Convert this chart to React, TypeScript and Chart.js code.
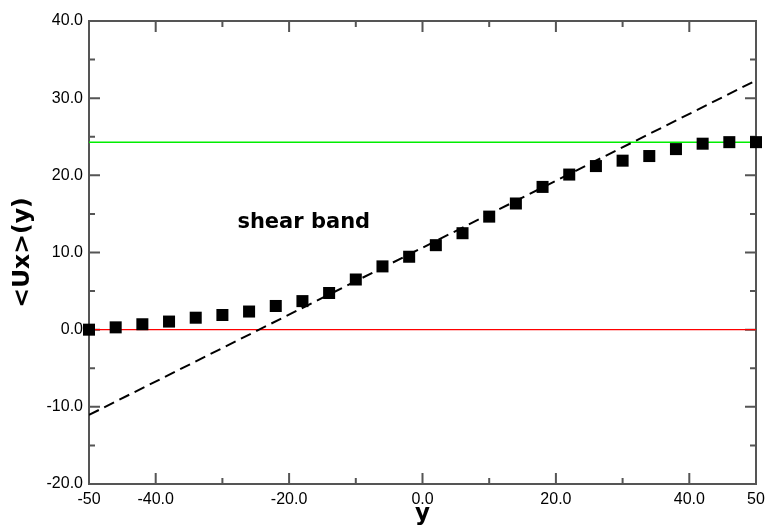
import React, { useEffect, useRef } from "react";
import { Chart, registerables } from "chart.js";

Chart.register(...registerables);

// ---- data ----
const positions = [-50, -46, -42, -38, -34, -30, -26, -22, -18, -14, -10, -6, -2, 2, 6, 10, 14, 18, 22, 26, 30, 34, 38, 42, 46, 50];
const uxValues = [0.0, 0.3, 0.7, 1.05, 1.55, 1.9, 2.35, 3.07, 3.7, 4.75, 6.5, 8.2, 9.45, 10.95, 12.5, 14.65, 16.35, 18.5, 20.1, 21.2, 21.9, 22.5, 23.4, 24.1, 24.3, 24.3];
const fitX = [-50, 50];
const fitY = [-11.05, 32.3];
const upperLevel = 24.3;
const lowerLevel = 0.0;
const xRange = [-50, 50];
const yRange = [-20, 40];
const annotationText = "shear band";
const annotationAt = [-17.8, 14.1];

const FRAME = "#555555";

const framePlugin = {
  id: "frameTicks",
  beforeDatasetsDraw(chart: any) {
    const { ctx, chartArea: a, scales } = chart;
    const xs = scales.x;
    const ys = scales.y;
    ctx.save();
    ctx.strokeStyle = FRAME;
    ctx.lineWidth = 2;
    ctx.strokeRect(a.left, a.top, a.right - a.left, a.bottom - a.top);
    ctx.beginPath();
    for (let v = -50; v <= 50; v += 10) {
      const px = xs.getPixelForValue(v);
      const major = v % 20 === 0 || Math.abs(v) === 50;
      const len = major ? 11 : 6;
      ctx.moveTo(px, a.bottom);
      ctx.lineTo(px, a.bottom - len);
      ctx.moveTo(px, a.top);
      ctx.lineTo(px, a.top + len);
    }
    for (let v = -20; v <= 40; v += 5) {
      const py = ys.getPixelForValue(v);
      const major = v % 10 === 0;
      const len = major ? 11 : 6;
      ctx.moveTo(a.left, py);
      ctx.lineTo(a.left + len, py);
      ctx.moveTo(a.right, py);
      ctx.lineTo(a.right - len, py);
    }
    ctx.stroke();
    ctx.restore();
  },
  afterDraw(chart: any) {
    const { ctx, scales } = chart;
    ctx.save();
    ctx.fillStyle = "#000";
    ctx.font = "bold 21px 'DejaVu Sans'";
    ctx.textAlign = "center";
    ctx.textBaseline = "alphabetic";
    ctx.fillText(
      annotationText,
      scales.x.getPixelForValue(annotationAt[0]),
      scales.y.getPixelForValue(annotationAt[1]) + 7
    );
    ctx.restore();
  },
};

export default function App() {
  const ref = useRef<HTMLCanvasElement | null>(null);
  useEffect(() => {
    if (!ref.current) return;
    const pts = positions.map((x, i) => ({ x, y: uxValues[i] }));
    const chart = new Chart(ref.current, {
      type: "scatter",
      data: {
        datasets: [
          {
            label: "<Ux>(y)",
            data: pts,
            pointStyle: "rect",
            pointRadius: 8.5,
            pointHoverRadius: 8.5,
            pointBorderWidth: 0,
            backgroundColor: "#000",
            borderColor: "#000",
            showLine: false,
            clip: false,
            order: 0,
          },
          {
            label: "fit",
            data: fitX.map((x, i) => ({ x, y: fitY[i] })),
            showLine: true,
            pointRadius: 0,
            borderColor: "#000",
            borderWidth: 2,
            borderDash: [11, 6],
            order: 1,
          },
          {
            label: "upper",
            data: xRange.map((x) => ({ x, y: upperLevel })),
            showLine: true,
            pointRadius: 0,
            borderColor: "#00ee00",
            borderWidth: 1.5,
            order: 2,
          },
          {
            label: "lower",
            data: xRange.map((x) => ({ x, y: lowerLevel })),
            showLine: true,
            pointRadius: 0,
            borderColor: "#ff0000",
            borderWidth: 1.4,
            order: 3,
          },
        ],
      },
      options: {
        animation: false,
        responsive: false,
        events: [],
        layout: { padding: { top: 21, right: 9, bottom: 0, left: 0 } },
        plugins: { legend: { display: false }, tooltip: { enabled: false } },
        scales: {
          x: {
            type: "linear",
            min: xRange[0],
            max: xRange[1],
            border: { display: false },
            grid: { display: false, drawTicks: false },
            afterFit(scale: any) {
              scale.height = 44;
              scale.paddingLeft = 0;
              scale.paddingRight = 0;
            },
            ticks: {
              stepSize: 10,
              autoSkip: false,
              maxRotation: 0,
              padding: 6,
              color: "#000",
              font: { family: "'Liberation Sans', Arial", size: 16 },
              callback: (v: any) => {
                const n = Math.round(Number(v));
                if (Math.abs(n) === 50) return String(n);
                return n % 20 === 0 ? n.toFixed(1) : "";
              },
            },
            title: {
              display: true,
              text: "y",
              color: "#000",
              font: { family: "'DejaVu Sans'", size: 23, weight: "bold" },
              padding: { top: 0, bottom: 0 },
            },
          },
          y: {
            type: "linear",
            min: yRange[0],
            max: yRange[1],
            border: { display: false },
            grid: { display: false, drawTicks: false },
            afterFit(scale: any) {
              scale.width = 89;
              scale.paddingTop = 0;
              scale.paddingBottom = 0;
            },
            ticks: {
              stepSize: 5,
              autoSkip: false,
              padding: 6,
              color: "#000",
              font: { family: "'Liberation Sans', Arial", size: 16 },
              callback: (v: any) => {
                const n = Math.round(Number(v));
                return n % 10 === 0 ? n.toFixed(1) : "";
              },
            },
            title: {
              display: true,
              text: "<Ux>(y)",
              color: "#000",
              font: { family: "'DejaVu Sans'", size: 23.5, weight: "bold" },
              padding: { top: 9, bottom: 0 },
            },
          },
        },
      },
      plugins: [framePlugin],
    } as any);
    return () => chart.destroy();
  }, []);
  return (
    <div style={{ position: "absolute", left: 0, top: 0, width: 765, height: 528, background: "#fff" }}>
      <canvas ref={ref} width={765} height={528} style={{ display: "block" }} />
    </div>
  );
}
